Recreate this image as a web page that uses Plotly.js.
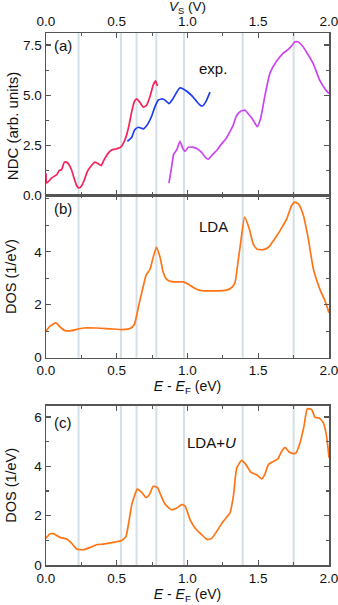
<!DOCTYPE html>
<html>
<head>
<meta charset="utf-8">
<script src="https://cdn.plot.ly/plotly-3.0.1.min.js"></script>
<style>
  html, body { margin: 0; padding: 0; background: #fff; }
  #chart { width: 338px; height: 605px; }
</style>
</head>
<body>
<div id="chart"></div>
<script>
// energies of the marked features (eV)
const markE = [0.23, 0.53, 0.64, 0.78, 0.975, 1.39, 1.75];

// (a) experiment, NDC
const redV = [0, 0.005, 0.04, 0.075, 0.094, 0.11, 0.13, 0.146, 0.163, 0.18, 0.198, 0.217, 0.233, 0.252, 0.276, 0.292, 0.316, 0.346, 0.37, 0.389, 0.412, 0.44, 0.464, 0.5, 0.528, 0.558, 0.582, 0.606, 0.624, 0.641, 0.664, 0.688, 0.712, 0.735, 0.758, 0.775, 0.787];
const redNdc = [1.1, 0.62, 0.87, 1.03, 1.25, 1.28, 1.66, 1.66, 1.53, 1.28, 0.87, 0.48, 0.37, 0.48, 0.87, 1.19, 1.44, 1.66, 1.58, 1.48, 1.8, 2.11, 2.26, 2.33, 2.41, 2.77, 3.35, 4.18, 4.68, 4.81, 4.63, 4.4, 4.51, 4.93, 5.51, 5.71, 5.46];

const blueV = [0.575, 0.606, 0.625, 0.652, 0.688, 0.716, 0.747, 0.77, 0.794, 0.827, 0.853, 0.869, 0.895, 0.919, 0.945, 0.97, 0.999, 1.03, 1.06, 1.088, 1.105, 1.13, 1.159];
const blueNdc = [2.69, 2.9, 3.25, 3.4, 3.32, 3.52, 3.96, 4.43, 4.76, 4.81, 4.68, 4.58, 4.8, 5.09, 5.36, 5.31, 5.17, 4.98, 4.73, 4.51, 4.46, 4.68, 5.15];

const magV = [0.869, 0.888, 0.902, 0.924, 0.947, 0.966, 0.983, 1.006, 1.041, 1.068, 1.1, 1.128, 1.147, 1.175, 1.206, 1.235, 1.27, 1.3, 1.324, 1.345, 1.376, 1.408, 1.43, 1.45, 1.47, 1.493, 1.517, 1.548, 1.583, 1.63, 1.677, 1.703, 1.73, 1.76, 1.78, 1.807, 1.847, 1.89, 1.936, 1.979, 2.0];
const magNdc = [0.62, 1.44, 2.05, 2.27, 2.7, 2.36, 2.2, 2.4, 2.4, 2.33, 2.15, 1.88, 1.81, 2.02, 2.24, 2.52, 2.81, 3.18, 3.52, 3.95, 4.2, 4.25, 4.06, 3.9, 3.68, 3.43, 3.85, 5.0, 6.1, 6.7, 7.1, 7.23, 7.41, 7.66, 7.66, 7.5, 7.08, 6.55, 5.72, 5.24, 5.09];

// (b) LDA DOS
const ldaE = [0, 0.028, 0.07, 0.099, 0.134, 0.18, 0.264, 0.358, 0.452, 0.546, 0.594, 0.624, 0.645, 0.66, 0.688, 0.707, 0.735, 0.754, 0.78, 0.806, 0.829, 0.853, 0.888, 0.97, 1.006, 1.041, 1.088, 1.182, 1.277, 1.312, 1.336, 1.352, 1.376, 1.404, 1.437, 1.465, 1.493, 1.536, 1.572, 1.607, 1.654, 1.701, 1.736, 1.76, 1.788, 1.819, 1.854, 1.89, 1.936, 1.972, 2.0];
const ldaDos = [1.0, 1.19, 1.31, 1.16, 1.02, 1.02, 1.12, 1.12, 1.09, 1.06, 1.1, 1.25, 1.7, 2.08, 2.71, 3.11, 3.34, 3.72, 4.17, 3.79, 3.22, 2.96, 2.87, 2.86, 2.77, 2.65, 2.54, 2.52, 2.55, 2.65, 2.84, 3.41, 4.36, 5.31, 4.86, 4.29, 4.1, 4.08, 4.17, 4.42, 4.8, 5.24, 5.75, 5.88, 5.78, 5.37, 4.48, 3.34, 2.58, 2.14, 1.7];

// (c) LDA+U DOS
const ldauE = [0, 0.028, 0.052, 0.099, 0.146, 0.18, 0.217, 0.264, 0.311, 0.358, 0.405, 0.476, 0.535, 0.565, 0.582, 0.606, 0.624, 0.645, 0.676, 0.707, 0.73, 0.758, 0.787, 0.81, 0.841, 0.888, 0.924, 0.959, 0.982, 1.018, 1.053, 1.1, 1.14, 1.171, 1.206, 1.253, 1.3, 1.324, 1.348, 1.383, 1.413, 1.447, 1.489, 1.524, 1.548, 1.572, 1.607, 1.638, 1.666, 1.689, 1.72, 1.753, 1.767, 1.795, 1.823, 1.847, 1.878, 1.9, 1.93, 1.96, 1.983, 2.0];
const ldauDos = [1.09, 1.26, 1.27, 1.12, 1.05, 0.89, 0.65, 0.62, 0.71, 0.82, 0.85, 0.92, 0.99, 1.16, 1.63, 2.45, 2.78, 3.08, 2.95, 2.74, 2.85, 3.19, 3.15, 2.85, 2.47, 2.24, 2.31, 2.45, 2.4, 1.84, 1.5, 1.23, 1.03, 1.08, 1.36, 1.77, 2.11, 2.78, 3.93, 4.24, 4.07, 3.77, 3.66, 3.49, 3.7, 4.07, 4.2, 4.3, 4.61, 4.77, 4.57, 4.52, 4.55, 4.95, 5.62, 6.34, 6.3, 6.0, 5.96, 5.76, 5.22, 4.35];

const FONT = "Liberation Sans, Arial, sans-serif";
const AXCOL = "#555";

function line(x, y, color, xa, ya) {
  return {
    type: "scatter", mode: "lines", x: x, y: y,
    xaxis: xa, yaxis: ya,
    line: { color: color, width: 1.7, shape: "spline", smoothing: 0.5 },
    hoverinfo: "skip"
  };
}

function xAxis(extra) {
  return Object.assign({
    range: [0, 2], dtick: 0.5, tickformat: ".1f",
    ticks: "inside", ticklen: 5, tickwidth: 1.2, tickcolor: AXCOL,
    minor: { dtick: 0.25, ticks: "inside", ticklen: 3, tickcolor: AXCOL },
    showline: true, linecolor: AXCOL, linewidth: 1.5, mirror: "ticks",
    showgrid: false, zeroline: false, ticklabeloverflow: "allow",
    tickfont: { size: 13.5, color: "#111" }
  }, extra);
}

function yAxis(extra) {
  return Object.assign({
    ticks: "inside", ticklen: 5, tickwidth: 1.2, tickcolor: AXCOL,
    showline: true, linecolor: AXCOL, linewidth: 1.5, mirror: "ticks",
    showgrid: false, zeroline: false,
    tickfont: { size: 13.5, color: "#111" }
  }, extra);
}

const traces = [
  line(redV, redNdc, "#f5225a", "x", "y"),
  line(blueV, blueNdc, "#1e3cf2", "x", "y"),
  line(magV, magNdc, "#cc44f2", "x", "y"),
  line(ldaE, ldaDos, "#ff7414", "x2", "y2"),
  line(ldauE, ldauDos, "#ff7414", "x3", "y3")
];

const shapes = [];
[["x", "y"], ["x2", "y2"], ["x3", "y3"]].forEach(([xa, ya]) => {
  markE.forEach(e => {
    shapes.push({
      type: "line", layer: "below", xref: xa, yref: ya + " domain",
      x0: e, x1: e, y0: 0, y1: 1,
      line: { color: "#d5dfe6", width: 2 }
    });
  });
});

const label = (text, x, y, xref, yref) => ({
  text: text, x: x, y: y, xref: xref, yref: yref,
  showarrow: false, xanchor: "left", yanchor: "middle",
  font: { size: 15, color: "#111" }
});

const layout = {
  width: 338, height: 605,
  margin: { l: 46, r: 9, t: 33, b: 40 },
  paper_bgcolor: "#fff", plot_bgcolor: "#fff",
  font: { family: FONT, color: "#111" },
  showlegend: false,
  xaxis: xAxis({ domain: [0, 1], anchor: "y", side: "top" }),
  yaxis: yAxis({
    domain: [0.6947, 1], anchor: "x", range: [0, 8.1], dtick: 2.5, tickformat: ".1f",
    minor: { dtick: 1.25, ticks: "inside", ticklen: 3, tickcolor: AXCOL }
  }),
  xaxis2: xAxis({
    domain: [0, 1], anchor: "y2",
    title: { text: "<i>E</i> - <i>E</i><sub>F</sub> (eV)", font: { size: 14 }, standoff: 2 }
  }),
  yaxis2: yAxis({
    domain: [0.3898, 0.6947], anchor: "x2", range: [0, 6.13],
    tickvals: [0, 2, 4],
    minor: { tickvals: [1, 3, 5, 6], ticks: "inside", ticklen: 3, tickcolor: AXCOL },
    title: { text: "DOS (1/eV)", font: { size: 14.5 }, standoff: 14 }
  }),
  xaxis3: xAxis({
    domain: [0, 1], anchor: "y3",
    title: { text: "<i>E</i> - <i>E</i><sub>F</sub> (eV)", font: { size: 14 }, standoff: 2 }
  }),
  yaxis3: yAxis({
    domain: [0, 0.2994], anchor: "x3", range: [0, 6.46], dtick: 2,
    minor: { dtick: 1, ticks: "inside", ticklen: 3, tickcolor: AXCOL },
    title: { text: "DOS (1/eV)", font: { size: 14.5 }, standoff: 14 }
  }),
  shapes: shapes,
  annotations: [
    {
      text: "<i>V</i><sub>S</sub> (V)", showarrow: false,
      xref: "paper", yref: "paper", x: 0.5, y: 1.048,
      xanchor: "center", yanchor: "middle",
      font: { size: 13.5, color: "#111" }
    },
    {
      text: "NDC (arb. units)", textangle: -90, showarrow: false,
      xref: "paper", yref: "paper", x: -0.12, y: 0.825,
      xanchor: "center", yanchor: "middle",
      font: { size: 15, color: "#111" }
    },
    label("(a)", 0.02, 0.92, "x domain", "y domain"),
    label("exp.", 0.535, 0.78, "x domain", "y domain"),
    label("(b)", 0.02, 0.92, "x2 domain", "y2 domain"),
    label("LDA", 0.535, 0.81, "x2 domain", "y2 domain"),
    label("(c)", 0.02, 0.895, "x3 domain", "y3 domain"),
    label("LDA+<i>U</i>", 0.49, 0.77, "x3 domain", "y3 domain")
  ]
};

Plotly.newPlot("chart", traces, layout, { displayModeBar: false, staticPlot: true });
</script>
</body>
</html>
